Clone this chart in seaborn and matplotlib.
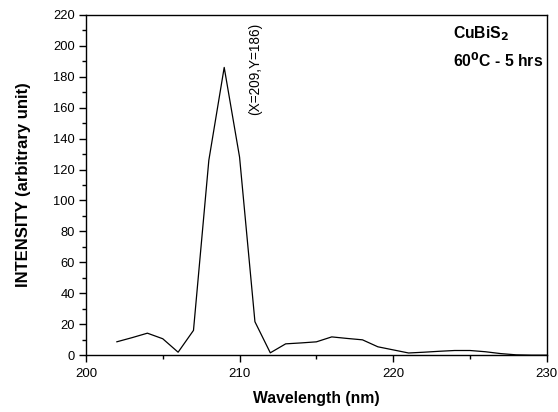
import matplotlib
matplotlib.use("Agg")
import matplotlib.pyplot as plt
import seaborn as sns
import pandas as pd
from matplotlib.ticker import MultipleLocator

wavelength = [202, 203, 204, 205, 206, 207, 208, 209, 210, 211, 212, 213, 214, 215,
              216, 217, 218, 219, 220, 221, 222, 223, 224, 225, 226, 227, 228, 229, 230]
intensity = [8.6, 11.3, 14.2, 10.6, 1.9, 16.0, 126, 186, 128, 21.6, 1.5, 7.3, 7.9, 8.6,
             11.8, 10.8, 9.9, 5.4, 3.4, 1.4, 1.9, 2.5, 3.0, 3.0, 2.2, 1.0, 0.2, 0.0, 0.0]

x_label = "Wavelength (nm)"
y_label = "INTENSITY (arbitrary unit)"
peak_note = "(X=209,Y=186)"

sns.set_style("ticks")
plt.rcParams['font.family'] = ['Liberation Sans', 'DejaVu Sans']
plt.rcParams['text.color'] = 'black'
plt.rcParams['axes.labelcolor'] = 'black'

df = pd.DataFrame({"wl": wavelength, "I": intensity})

fig = plt.figure(figsize=(5.58, 4.12), dpi=100)
ax = fig.add_axes([0.154, 0.138, 0.826, 0.826])
sns.lineplot(data=df, x="wl", y="I", ax=ax, color="black", linewidth=0.9)

ax.set_xlim(200, 230)
ax.set_ylim(0, 220)
ax.xaxis.set_major_locator(MultipleLocator(10))
ax.xaxis.set_minor_locator(MultipleLocator(5))
ax.yaxis.set_major_locator(MultipleLocator(20))
ax.yaxis.set_minor_locator(MultipleLocator(10))
ax.tick_params(which="major", direction="out", length=5, width=1, colors="black")
ax.tick_params(which="minor", direction="out", length=3, width=1, colors="black")
ax.tick_params(axis="x", which="major", labelsize=9.5, pad=4)
ax.tick_params(axis="y", which="major", labelsize=9.3, pad=3)
for s in ax.spines.values():
    s.set_linewidth(1.0)
    s.set_color("black")

ax.set_xlabel(x_label, fontsize=11.3, fontweight="bold")
ax.set_ylabel(y_label, fontsize=12, fontweight="bold")
ax.xaxis.set_label_coords(0.5, -0.106)
ax.yaxis.set_label_coords(-0.119, 0.5)

ax.text(211.0, 215, peak_note, rotation=90, ha="center", va="top", fontsize=9.8)
ax.text(0.796, 0.945, "CuBiS$_{\\mathbf{2}}$", transform=ax.transAxes, fontsize=11.3,
        fontweight="bold", ha="left", va="center")
ax.text(0.796, 0.866, "60$^{\\mathbf{0}}$C - 5 hrs", transform=ax.transAxes, fontsize=11.3,
        fontweight="bold", ha="left", va="center")

fig.savefig("out.png", dpi=100)
